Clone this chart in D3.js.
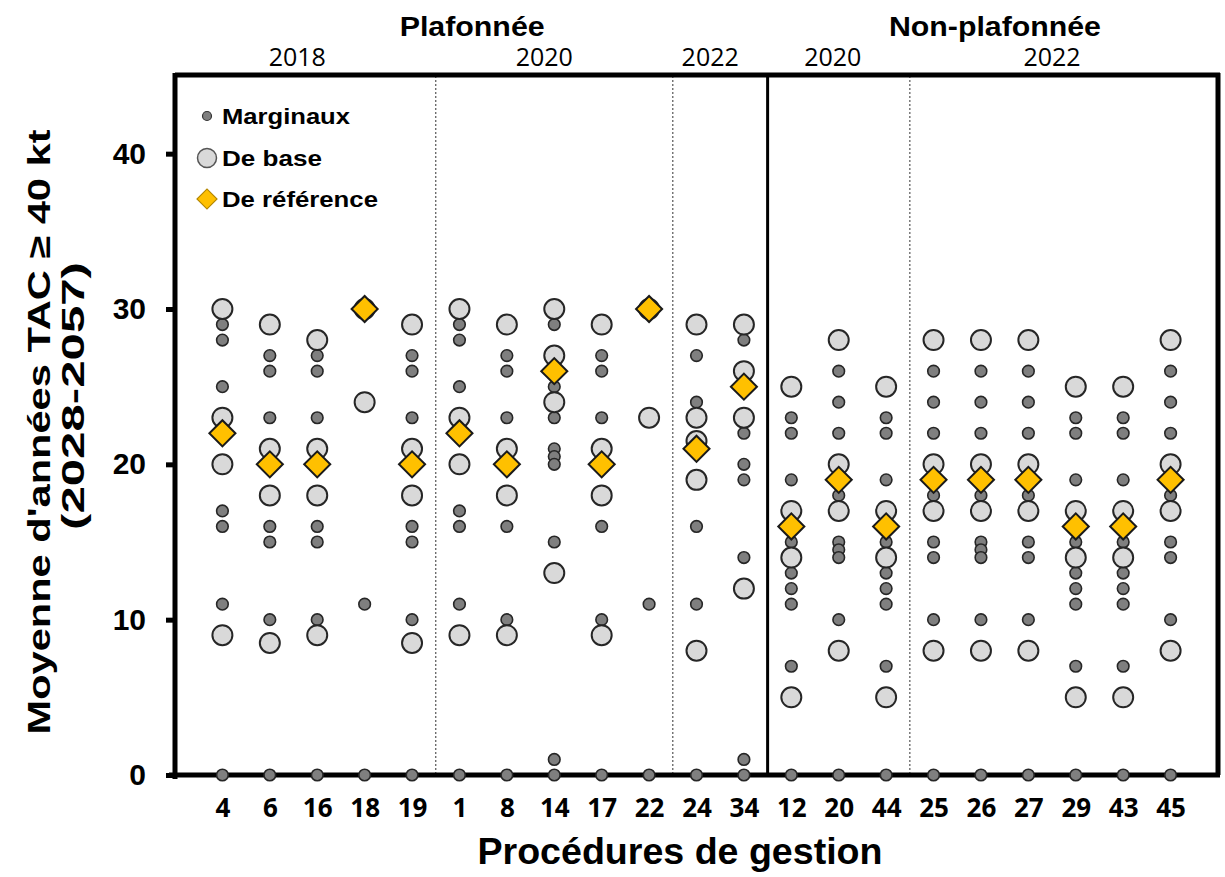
<!DOCTYPE html>
<html><head><meta charset="utf-8">
<script src="https://cdn.jsdelivr.net/npm/d3@7"></script>
<style>body{margin:0;background:#fff}</style>
</head><body>
<svg id="c" width="1225" height="877"></svg>
<script>
// ---- data ----
const categories = ["4","6","16","18","19","1","8","14","17","22","24","34","12","20","44","25","26","27","29","43","45"];
const marginaux = [
  [29,28,25,17,16,11,0],
  [27,26,23,16,15,10,0],
  [27,26,23,16,15,10,0],
  [11,0],
  [27,26,23,16,15,10,0],
  [29,28,25,17,16,11,0],
  [27,26,23,16,10,0],
  [29,25,23,21,20.5,20,15,1,0],
  [27,26,23,16,10,0],
  [11,0],
  [27,24,16,11,0],
  [28,22,20,19,14,1,0],
  [23,22,19,15,13,12,11,7,0],
  [26,24,22,18,15,14.5,14,10,0],
  [23,22,19,15,13,12,11,7,0],
  [26,24,22,18,15,14,10,0],
  [26,24,22,18,15,14.5,14,10,0],
  [26,24,22,18,15,14,10,0],
  [23,22,19,15,13,12,11,7,0],
  [23,22,19,15,13,12,11,7,0],
  [26,24,22,18,15,14,10,0]
];
const deBase = [
  [30,23,20,9],
  [29,21,18,8.5],
  [28,21,18,9],
  [30,24],
  [29,21,18,8.5],
  [30,23,20,9],
  [29,21,18,9],
  [30,27,24,13],
  [29,21,18,9],
  [30,23],
  [29,23,21.5,19,8],
  [29,26,23,12],
  [25,17,14,5],
  [28,20,17,8],
  [25,17,14,5],
  [28,20,17,8],
  [28,20,17,8],
  [28,20,17,8],
  [25,17,14,5],
  [25,17,14,5],
  [28,20,17,8]
];
const deReference = [22,20,20,30,20,22,20,26,20,30,21,25,16,19,16,19,19,19,16,16,19];
const yTicks = [0,10,20,30,40];
const capGroups = [{label:"Plafonnée", from:0, to:11}, {label:"Non-plafonnée", from:12, to:20}];
const yearGroups = [{label:"2018",from:0,to:4},{label:"2020",from:5,to:9},{label:"2022",from:10,to:11},{label:"2020",from:12,to:14},{label:"2022",from:15,to:20}];
const legendItems = ["Marginaux","De base","De référence"];

// ---- layout ----
const L = 175, R = 1218, T = 76, B = 775;
const capOffsets = [-11, 14];
const capWidths = [145, 212];
const yearOffsets = [-20, -10, -10, -6, 0];
const legendWidths = [128, 100, 156];

const svg = d3.select("#c");
const x = d3.scalePoint().domain(categories).range([L, R]).padding(1);
const y = d3.scaleLinear().domain([0,45]).range([B, T]);

const bold = "'Liberation Sans', Arial, sans-serif";
const cal = "'Open Sans', sans-serif";

// dividers
const divIdx = [4, 9, 14];
divIdx.forEach(i => {
  const xm = (x(categories[i]) + x(categories[i+1]))/2;
  svg.append("line").attr("x1",xm).attr("x2",xm).attr("y1",T).attr("y2",B)
    .attr("stroke","#555").attr("stroke-width",1.2).attr("stroke-dasharray","2,2");
});
const solidX = (x(categories[11]) + x(categories[12]))/2;
svg.append("line").attr("x1",solidX).attr("x2",solidX).attr("y1",T).attr("y2",B)
  .attr("stroke","#000").attr("stroke-width",3);

// frame
svg.append("line").attr("x1",L).attr("x2",R+2).attr("y1",T-1).attr("y2",T-1).attr("stroke","#000").attr("stroke-width",5);
svg.append("line").attr("x1",R).attr("x2",R).attr("y1",T-3).attr("y2",B).attr("stroke","#000").attr("stroke-width",5);

// y axis
const yAxis = svg.append("g").attr("transform",`translate(${L},0)`)
  .call(d3.axisLeft(y).tickValues(yTicks).tickSize(9).tickPadding(20).tickSizeOuter(0));
yAxis.select(".domain").attr("stroke","#000").attr("stroke-width",5).attr("d",`M0,${T-3}V${B+4}`);
yAxis.selectAll(".tick line").attr("stroke","#000").attr("stroke-width",5);
yAxis.selectAll(".tick text").attr("font-family",bold).attr("font-weight","bold").attr("font-size",30).attr("fill","#000");

// x axis
const xAxis = svg.append("g").attr("transform",`translate(0,${B})`)
  .call(d3.axisBottom(x).tickSize(0).tickPadding(24).tickSizeOuter(0));
xAxis.select(".domain").attr("stroke","#000").attr("stroke-width",5).attr("d",`M${L-6},0H${R+2}`);
xAxis.selectAll(".tick text").attr("font-family",cal).attr("font-weight","bold").attr("font-size",26).attr("fill","#000");

// points
const mData = [], bData = [];
categories.forEach((c,i) => {
  marginaux[i].forEach(v => mData.push({c, v}));
  deBase[i].forEach(v => bData.push({c, v}));
});
svg.append("g").selectAll("circle").data(mData).join("circle")
  .attr("cx", d => x(d.c)).attr("cy", d => y(d.v)).attr("r", 5.8)
  .attr("fill","#7f7f7f").attr("stroke","#262626").attr("stroke-width",1.6);
svg.append("g").selectAll("circle").data(bData).join("circle")
  .attr("cx", d => x(d.c)).attr("cy", d => y(d.v)).attr("r", 10)
  .attr("fill","#d9d9d9").attr("stroke","#262626").attr("stroke-width",2);
const diamond = d3.symbol().type(d3.symbolSquare).size(340);
svg.append("g").selectAll("path").data(deReference.map((v,i)=>({c:categories[i], v}))).join("path")
  .attr("d", diamond)
  .attr("transform", d => `translate(${x(d.c)},${y(d.v)}) rotate(45)`)
  .attr("fill","#ffc000").attr("stroke","#1a1a1a").attr("stroke-width",2);

// legend
const lg = svg.append("g");
const ly = [116, 158, 199];
lg.append("circle").attr("cx",207).attr("cy",ly[0]).attr("r",4.5).attr("fill","#7f7f7f").attr("stroke","#333").attr("stroke-width",1.2);
lg.append("circle").attr("cx",207).attr("cy",ly[1]).attr("r",9.5).attr("fill","#d9d9d9").attr("stroke","#555").attr("stroke-width",1.5);
lg.append("path").attr("d", d3.symbol().type(d3.symbolSquare).size(200)).attr("transform",`translate(207,${ly[2]}) rotate(45)`)
  .attr("fill","#ffc000").attr("stroke","#b38600").attr("stroke-width",1.2);
legendItems.forEach((t,i) => {
  lg.append("text").attr("x",222).attr("y",ly[i]).attr("dy","0.35em").text(t)
    .attr("textLength", legendWidths[i]).attr("lengthAdjust","spacingAndGlyphs")
    .attr("font-family",bold).attr("font-weight","bold").attr("font-size",22).attr("fill","#000");
});

// top group labels
capGroups.forEach((g,i) => {
  const cx = (x(categories[g.from]) + x(categories[g.to]))/2 + capOffsets[i];
  svg.append("text").attr("x",cx).attr("y",36).attr("text-anchor","middle").text(g.label)
    .attr("textLength", capWidths[i]).attr("lengthAdjust","spacingAndGlyphs")
    .attr("font-family",bold).attr("font-weight","bold").attr("font-size",27).attr("fill","#000");
});
yearGroups.forEach((g,i) => {
  const cx = (x(categories[g.from]) + x(categories[g.to]))/2 + yearOffsets[i];
  svg.append("text").attr("x",cx).attr("y",66).attr("text-anchor","middle").text(g.label)
    .attr("font-family",cal).attr("font-size",25).attr("fill","#000");
});

// axis titles
svg.append("text").attr("x",680).attr("y",864).attr("text-anchor","middle").text("Procédures de gestion")
  .attr("textLength",405).attr("lengthAdjust","spacingAndGlyphs")
  .attr("font-family",bold).attr("font-weight","bold").attr("font-size",36).attr("fill","#000");
svg.append("text").attr("transform","translate(50,432) rotate(-90)").attr("text-anchor","middle")
  .text("Moyenne d'années TAC ≥ 40 kt")
  .attr("textLength",605).attr("lengthAdjust","spacingAndGlyphs")
  .attr("font-family",bold).attr("font-weight","bold").attr("font-size",32).attr("fill","#000");
svg.append("text").attr("transform","translate(84,396) rotate(-90)").attr("text-anchor","middle")
  .text("(2028-2057)")
  .attr("textLength",268).attr("lengthAdjust","spacingAndGlyphs")
  .attr("font-family",bold).attr("font-weight","bold").attr("font-size",32).attr("fill","#000");
</script>
</body></html>
